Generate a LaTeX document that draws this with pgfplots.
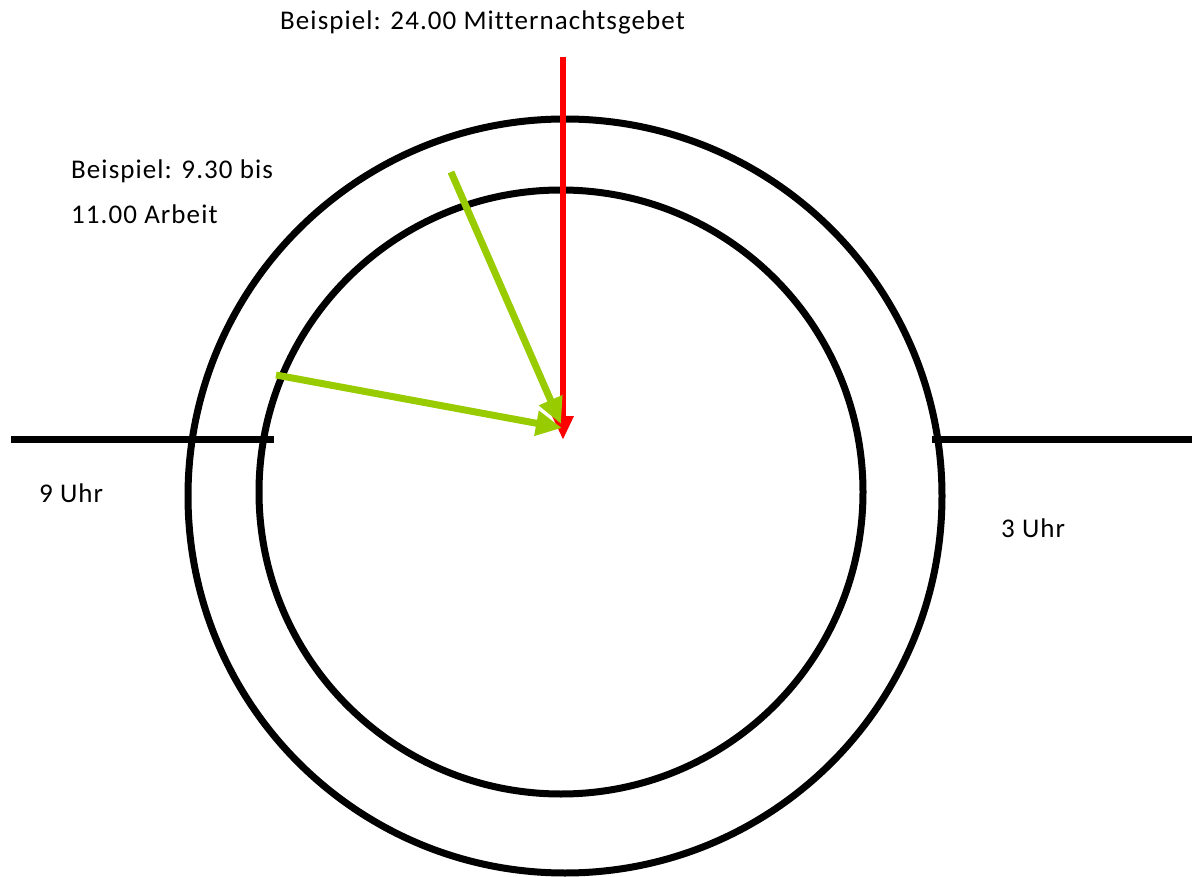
\documentclass[border=0pt]{standalone}
\usepackage{pgfplots}
\pgfplotsset{compat=1.18}
\usetikzlibrary{arrows.meta}
\usepackage{fontspec}
\setmainfont[LetterSpace=4,Ligatures={NoCommon}]{Carlito}
\definecolor{lgreen}{HTML}{99CC00}
\begin{document}
\begin{tikzpicture}
\begin{axis}[scale only axis, width=1192pt, height=877pt,
  xmin=0, xmax=1192, ymin=0, ymax=877, y dir=reverse,
  hide axis, clip=false, anchor=south west, at={(0,0)}]
% circles
\draw[line width=7pt] (axis cs:565,496) circle [radius=377];
\draw[line width=7pt] (axis cs:561,492) circle [radius=302];
% horizontal lines
\addplot[black, line width=7pt] coordinates {(11,439) (274,439)};
\addplot[black, line width=7pt] coordinates {(932,439) (1192,439)};
% red arrow
\addplot[red, line width=6pt, -{Triangle[length=24pt,width=20pt]}] coordinates {(563,57) (563,440)};
% green arrows
\addplot[lgreen, line width=7pt, -{Triangle[length=26pt,width=24pt]}] coordinates {(451,172) (561,424)};
\addplot[lgreen, line width=7pt, -{Triangle[length=26pt,width=24pt]}] coordinates {(276,375) (562,428)};
% texts
\node[anchor=base west, inner sep=0pt, font=\fontsize{27}{32}\selectfont] at (axis cs:280,30) {Beispiel: 24.00 Mitternachtsgebet};
\node[anchor=base west, inner sep=0pt, font=\fontsize{27}{32}\selectfont] at (axis cs:71,179) {Beispiel: 9.30 bis};
\node[anchor=base west, inner sep=0pt, font=\fontsize{27}{32}\selectfont] at (axis cs:71,224) {11.00 Arbeit};
\node[anchor=base west, inner sep=0pt, font=\fontsize{27}{32}\selectfont] at (axis cs:39,502) {9 Uhr};
\node[anchor=base west, inner sep=0pt, font=\fontsize{27}{32}\selectfont] at (axis cs:1001,537) {3 Uhr};
\end{axis}
\pgfresetboundingbox
\useasboundingbox (0,0) rectangle (1192pt,877pt);
\end{tikzpicture}
\end{document}
